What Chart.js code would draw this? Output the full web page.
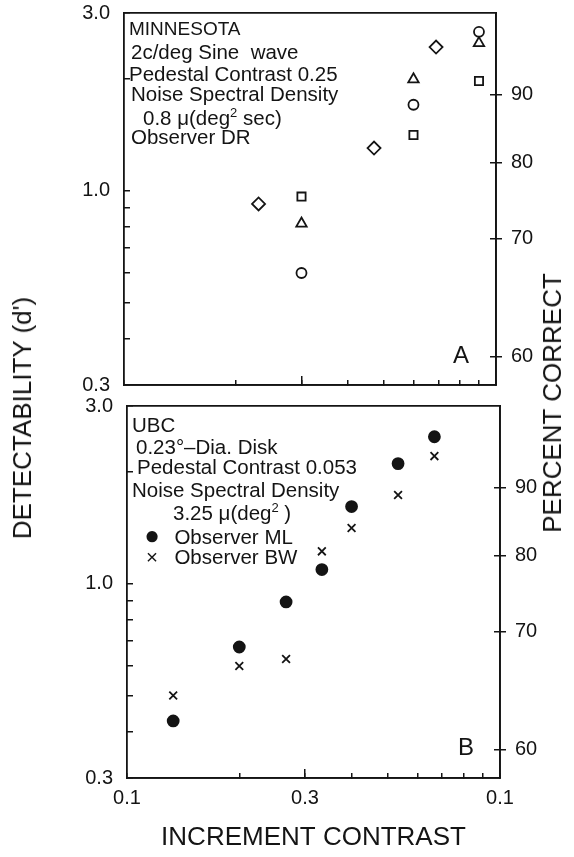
<!DOCTYPE html>
<html>
<head>
<meta charset="utf-8">
<script src="https://cdn.jsdelivr.net/npm/chart.js@4.4.1/dist/chart.umd.min.js"></script>
<style>
  body { margin: 0; background: #fff; }
  #wrap { position: relative; width: 574px; height: 857px; overflow: hidden;
          font-family: "Liberation Sans", Arial, sans-serif; color: #141414; }
  canvas { position: absolute; left: 0; }
  .t { position: absolute; white-space: pre; font-size: 20.5px; line-height: 1; }
  .t sup { font-size: 13px; vertical-align: 8px; line-height: 0; }
  .sym { display: inline-block; width: 22px; text-align: center; }
  .vt { position: absolute; white-space: nowrap; line-height: 1;
        transform: translate(-50%, -50%) rotate(-90deg); }
</style>
</head>
<body>
<div id="wrap">
  <canvas id="chartA" width="574" height="398" style="top:0"></canvas>
  <canvas id="chartB" width="574" height="463" style="top:394px"></canvas>

  <div class="t" style="left:129px;top:19px;font-size:19px">MINNESOTA</div>
  <div class="t" style="left:131px;top:42px">2c/deg Sine  wave</div>
  <div class="t" style="left:129px;top:64px">Pedestal Contrast 0.25</div>
  <div class="t" style="left:131px;top:84px">Noise Spectral Density</div>
  <div class="t" style="left:143px;top:108px">0.8 μ(deg<sup>2</sup> sec)</div>
  <div class="t" style="left:131px;top:127px">Observer DR</div>
  <div class="t" style="left:453px;top:343px;font-size:24px">A</div>

  <div class="t" style="left:132px;top:415px">UBC</div>
  <div class="t" style="left:136px;top:437px">0.23°–Dia. Disk</div>
  <div class="t" style="left:137px;top:457px">Pedestal Contrast 0.053</div>
  <div class="t" style="left:132px;top:480px">Noise Spectral Density</div>
  <div class="t" style="left:173px;top:503px">3.25 μ(deg<sup>2</sup> )</div>
  <div class="t" style="left:141px;top:525px"><span class="sym" style="font-size:26px;line-height:20px">●</span>  Observer ML</div>
  <div class="t" style="left:141px;top:547px"><span class="sym">×</span>  Observer BW</div>
  <div class="t" style="left:458px;top:735px;font-size:24px">B</div>

  <div class="vt" style="left:22px;top:418px;font-size:26px">DETECTABILITY (d')</div>
  <div class="vt" style="left:552px;top:403px;font-size:26px">PERCENT CORRECT</div>
</div>

<script>
// axis ticks
const xTicks = [0.1, 0.2, 0.3, 0.4, 0.5, 0.6, 0.7, 0.8, 0.9, 1.0];
const xTickText = ['0.1', '', '0.3', '', '', '', '', '', '', '0.1'];
const xMajorTicks = [0.3];
const dTicks = [0.3, 0.4, 0.5, 0.6, 0.7, 0.8, 0.9, 1.0, 2.0, 3.0];
const dTickText = ['0.3', '', '', '', '', '', '', '1.0', '', '3.0'];
// d' for 2AFC percent correct 60/70/80/90
const pcTicks = [0.358, 0.742, 1.190, 1.812];
const pcTickText = ['60', '70', '80', '90'];

// panel A - Minnesota, observer DR
const aContrast = [0.3, 0.6, 0.9];
const aCircle = [0.60, 1.70, 2.67];
const aTriangle = [0.815, 1.99, 2.49];
const aSquare = [0.963, 1.41, 1.97];
const aDiamondContrast = [0.23, 0.47, 0.69];
const aDiamond = [0.92, 1.30, 2.43];

// panel B - UBC, observers ML and BW
const bContrast = [0.133, 0.2, 0.267, 0.333, 0.4, 0.533, 0.667];
const bML = [0.427, 0.675, 0.892, 1.09, 1.61, 2.10, 2.48];
const bBW = [0.50, 0.60, 0.627, 1.22, 1.41, 1.73, 2.20];

const INK = '#141414';
const FONT = '"Liberation Sans", Arial, sans-serif';
const W = 574;

function pts(xs, ys) {
    return xs.map((x, i) => ({ x: x, y: ys[i] }));
}

function setTicks(vals) {
    return s => { s.ticks = vals.map(v => ({ value: v })); };
}

// fix an axis box size and drop the label overflow padding
function fixWidth(w) {
    return s => { s.width = w; s.paddingTop = 0; s.paddingBottom = 0; };
}

function scalesFor(g, showX) {
    const tickFont = { family: FONT, size: 20 };
    const logX = { type: 'logarithmic', min: 0.1, max: 1.0 };
    const logY = { type: 'logarithmic', min: 0.3, max: 3.0 };
    const border = { color: INK, width: 1.8 };
    const grid = len => ({ drawOnChartArea: false, tickLength: len, color: INK, lineWidth: 1.5 });
    return {
        x: {
            ...logX, position: 'bottom', weight: 0,
            afterFit: s => { s.height = g.h - g.bottom; },
            afterBuildTicks: setTicks(xTicks),
            grid: grid(-5), border: border,
            ticks: { display: showX, autoSkip: false, maxRotation: 0, padding: 13,
                     color: INK, font: tickFont, callback: (v, i) => xTickText[i] },
            title: { display: showX, text: 'INCREMENT CONTRAST', color: INK,
                     font: { family: FONT, size: 26 }, padding: { top: 0, bottom: 4 } }
        },
        xMaj: {
            ...logX, position: 'bottom', weight: -1,
            afterFit: s => { s.height = 0; },
            afterBuildTicks: setTicks(xMajorTicks),
            grid: grid(-9), border: border, ticks: { display: false }
        },
        xTop: {
            ...logX, position: 'top',
            afterFit: s => { s.height = 0; },
            grid: { display: false }, border: border, ticks: { display: false }
        },
        y: {
            ...logY, position: 'left',
            afterFit: fixWidth(g.left),
            afterBuildTicks: setTicks(dTicks),
            grid: grid(-6), border: border,
            ticks: { autoSkip: false, padding: 20, color: INK, font: tickFont,
                     callback: (v, i) => dTickText[i] }
        },
        yR: {
            ...logY, position: 'right', weight: 0,
            afterFit: fixWidth(W - g.right),
            afterBuildTicks: setTicks(pcTicks),
            grid: grid(6), border: border,
            ticks: { autoSkip: false, padding: 9, color: INK, font: tickFont,
                     callback: (v, i) => pcTickText[i] }
        },
        yRin: {
            ...logY, position: 'right', weight: -1,
            afterFit: fixWidth(0),
            afterBuildTicks: setTicks(pcTicks),
            grid: grid(-6), border: border, ticks: { display: false }
        }
    };
}

function marker(label, data, style, radius, filled) {
    return {
        label: label,
        data: data,
        pointStyle: style,
        pointRadius: radius,
        pointBorderWidth: 1.8,
        pointBorderColor: INK,
        pointBackgroundColor: filled ? INK : 'rgba(0,0,0,0)',
        showLine: false
    };
}

function makePanel(id, g, showX, datasets) {
    return new Chart(document.getElementById(id), {
        type: 'scatter',
        data: { datasets: datasets },
        options: {
            responsive: false,
            animation: false,
            devicePixelRatio: 1,
            layout: { padding: { top: g.top, left: 0, right: 0, bottom: 0 } },
            plugins: { legend: { display: false }, tooltip: { enabled: false } },
            scales: scalesFor(g, showX)
        }
    });
}

makePanel('chartA', { h: 398, top: 13, bottom: 385, left: 124, right: 496 }, false, [
    marker('circle', pts(aContrast, aCircle), 'circle', 5, false),
    marker('triangle', pts(aContrast, aTriangle), 'triangle', 6, false),
    marker('square', pts(aContrast, aSquare), 'rect', 5.8, false),
    marker('diamond', pts(aDiamondContrast, aDiamond), 'rectRot', 6.5, false)
]);

makePanel('chartB', { h: 463, top: 12, bottom: 384, left: 127, right: 500 }, true, [
    marker('Observer ML', pts(bContrast, bML), 'circle', 5.5, true),
    marker('Observer BW', pts(bContrast, bBW), 'crossRot', 5.5, false)
]);
</script>
</body>
</html>
